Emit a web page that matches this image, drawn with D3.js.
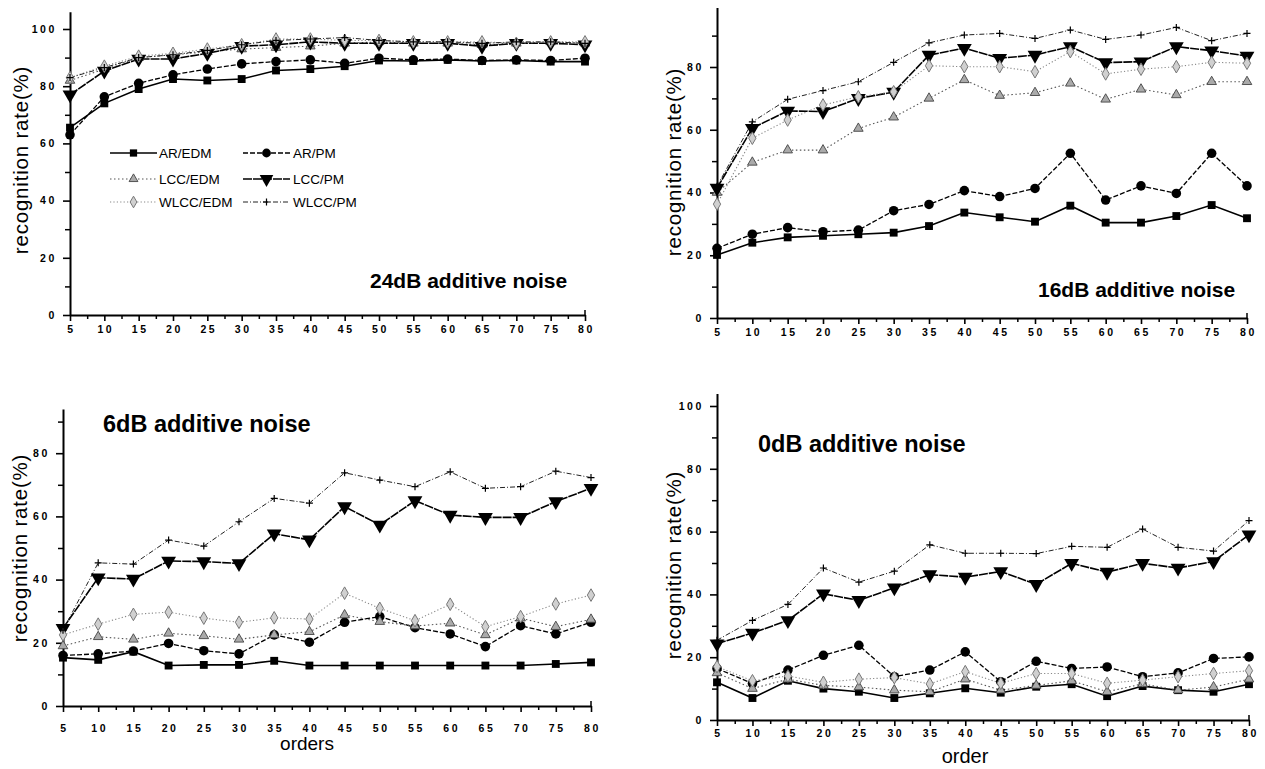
<!DOCTYPE html>
<html>
<head>
<meta charset="utf-8">
<script src="https://cdn.jsdelivr.net/npm/d3@7"></script>
<style>
  body { margin: 0; background: #fff; }
  svg { display: block; font-family: "Liberation Sans", Arial, sans-serif; }
</style>
</head>
<body>
<svg width="1265" height="769"></svg>
<script>
// x values (model order)
var orders = [5, 10, 15, 20, 25, 30, 35, 40, 45, 50, 55, 60, 65, 70, 75, 80];
var seriesNames = ["AR/EDM", "AR/PM", "LCC/EDM", "LCC/PM", "WLCC/EDM", "WLCC/PM"];
var panelTitles = ["24dB additive noise", "16dB additive noise", "6dB additive noise", "0dB additive noise"];
var xLabels = ["", "", "orders", "order"];
var yLabel = "recognition rate(%)";

// 24dB
var arEdm24   = [65.5, 74, 79, 82.5, 82, 82.5, 85.5, 86, 87, 89, 88.8, 89.2, 88.8, 89, 88.6, 88.6];
var arPm24    = [63, 76.3, 81, 84, 86, 87.8, 88.6, 89.2, 88, 89.8, 89.2, 89.5, 89, 89.2, 89, 89.8];
var lccEdm24  = [82, 86, 90, 91, 92, 93, 93.5, 94, 95, 95.5, 95, 95, 94.5, 95, 95.5, 95];
var lccPm24   = [77, 85.3, 89.5, 89.5, 91.5, 94, 94.5, 95.5, 95, 95, 95, 95, 94, 95, 95, 94.5];
var wlccEdm24 = [83, 87, 90.5, 91.5, 93, 94.5, 96.5, 96.5, 96, 96, 95.5, 95.5, 95.5, 95, 95.5, 95.5];
var wlccPm24  = [83, 86.5, 90, 91, 92.5, 94.5, 96, 96.5, 97, 96, 95.5, 95.5, 95, 95.5, 95.5, 95];

// 16dB
var arEdm16   = [20.1, 24, 25.7, 26.2, 26.7, 27.2, 29.3, 33.6, 32.1, 30.7, 35.8, 30.4, 30.4, 32.5, 36, 31.8];
var arPm16    = [22.2, 26.7, 28.8, 27.5, 28, 34.2, 36.2, 40.6, 38.7, 41.3, 52.5, 37.6, 42.1, 39.7, 52.5, 42.1];
var lccEdm16  = [40, 49.6, 53.5, 53.5, 60.4, 64, 70, 75.9, 70.9, 71.8, 74.8, 69.7, 72.9, 71.1, 75.3, 75.3];
var lccPm16   = [41.4, 60.5, 66, 65.8, 70, 72, 83.8, 86, 82.8, 83.8, 86.5, 81.4, 81.7, 86.5, 85.2, 83.5];
var wlccEdm16 = [36.3, 57.3, 63.1, 67.9, 70.5, 72.1, 80.4, 80.1, 80.1, 78.5, 84.9, 77.8, 79.3, 80.1, 81.5, 81.2];
var wlccPm16  = [42, 62.5, 69.7, 72.5, 75.3, 81.5, 87.7, 90.2, 90.7, 89.1, 91.8, 88.8, 90.2, 92.6, 88.4, 90.7];

// 6dB
var arEdm6   = [15.3, 14.6, 17.2, 12.8, 13, 13, 14.3, 12.8, 12.8, 12.8, 12.8, 12.8, 12.8, 12.8, 13.3, 13.8];
var arPm6    = [16, 16.5, 17.4, 19.8, 17.5, 16.5, 22.5, 20.2, 26.5, 28.3, 24.8, 22.8, 18.8, 25.4, 22.8, 26.5];
var lccEdm6  = [19, 21.9, 21.1, 23, 22.2, 21.1, 22.5, 23.5, 28.8, 26.7, 25.3, 26.2, 22.5, 27.8, 25.1, 27.4];
var lccPm6   = [24.6, 40.6, 40.2, 45.9, 45.7, 45.1, 54.5, 52.6, 63.1, 57.3, 65, 60.4, 59.7, 59.7, 64.7, 68.9];
var wlccEdm6 = [22.5, 25.9, 29, 29.7, 27.8, 26.5, 27.9, 27.5, 35.7, 30.9, 27, 32.2, 25.1, 28.3, 32.3, 35.1];
var wlccPm6  = [24, 45.3, 44.9, 52.5, 50.6, 58.3, 65.7, 64.2, 73.8, 71.5, 69.4, 74.1, 68.9, 69.4, 74.3, 72.3];

// 0dB
var arEdm0   = [12, 7, 12.5, 10, 9, 7, 8.5, 10.1, 8.7, 10.6, 11.4, 7.6, 10.8, 9.5, 9, 11.4];
var arPm0    = [16.4, 11.6, 15.9, 20.6, 23.8, 13.8, 15.9, 21.7, 12.2, 18.7, 16.4, 16.9, 13.8, 15, 19.6, 20.1];
var lccEdm0  = [15, 10, 13, 11, 10.5, 9.5, 9, 13, 9.5, 11, 12.5, 9, 11.5, 9.5, 10.5, 13];
var lccPm0   = [24.3, 27.7, 31.7, 40.2, 38.1, 42.1, 46.3, 45.5, 47.3, 43.2, 49.9, 47.1, 49.9, 48.4, 50.5, 59];
var wlccEdm0 = [17, 12.5, 14, 12, 13, 13.5, 11.5, 15.4, 11.7, 14.8, 14.8, 11.7, 12.7, 13.8, 14.8, 15.7];
var wlccPm0  = [25.4, 31.7, 36.8, 48.4, 43.9, 47.4, 55.8, 53.1, 53.1, 53, 55.3, 55, 60.8, 55, 53.8, 63.5];

var yTicks = [0, 20, 40, 60, 80, 100];

var svg = d3.select("svg");

// line / marker style for each series (same order as seriesNames)
var styles = [
  {stroke: "#000", width: 1.6, dash: null,      sym: "square"},
  {stroke: "#000", width: 1.3, dash: "5,2",     sym: "circle"},
  {stroke: "#555", width: 1.1, dash: "1.5,2.5", sym: "tri"},
  {stroke: "#000", width: 1.6, dash: "9,1",     sym: "tridown"},
  {stroke: "#888", width: 1.1, dash: "1.2,2.2", sym: "diamond"},
  {stroke: "#222", width: 1,   dash: "5,2,1,2", sym: "plus"}
];

function drawMarker(g, sym, cx, cy, big) {
  var k = big ? 1 : 0.85;
  if (sym === "square") {
    g.append("path").attr("d", d3.symbol(d3.symbolSquare, 62 * k)())
      .attr("transform", "translate(" + cx + "," + cy + ")").attr("fill", "#000");
  } else if (sym === "circle") {
    g.append("path").attr("d", d3.symbol(d3.symbolCircle, 72 * k)())
      .attr("transform", "translate(" + cx + "," + cy + ")").attr("fill", "#000");
  } else if (sym === "tri") {
    g.append("path").attr("d", d3.symbol(d3.symbolTriangle, 40 * k)())
      .attr("transform", "translate(" + cx + "," + cy + ")")
      .attr("fill", "#aaa").attr("stroke", "#444").attr("stroke-width", 0.9);
  } else if (sym === "tridown") {
    g.append("path").attr("d", d3.symbol(d3.symbolTriangle, 95 * k)())
      .attr("transform", "translate(" + cx + "," + cy + ") rotate(180)").attr("fill", "#000");
  } else if (sym === "diamond") {
    g.append("path").attr("d", d3.symbol(d3.symbolDiamond, 46 * k)())
      .attr("transform", "translate(" + cx + "," + cy + ")")
      .attr("fill", "#d0d0d0").attr("stroke", "#777").attr("stroke-width", 1);
  } else {
    var s = 3.5;
    g.append("path")
      .attr("d", "M" + (cx - s) + "," + cy + "H" + (cx + s) + "M" + cx + "," + (cy - s) + "V" + (cy + s))
      .attr("stroke", "#000").attr("stroke-width", 1.2).attr("fill", "none");
  }
}

// panel layout (pixel boxes for each subplot)
var panels = [
  {x0: 70,  x1: 585,  yBase: 315, perUnit: 2.86,   yMax: 106, series: [arEdm24, arPm24, lccEdm24, lccPm24, wlccEdm24, wlccPm24],
   lblOff: 17.5, title: [370, 288, 21], ylab: [28, 160], xlab: null},
  {x0: 717, x1: 1247, yBase: 318, perUnit: 3.1375, yMax: 99,  series: [arEdm16, arPm16, lccEdm16, lccPm16, wlccEdm16, wlccPm16],
   lblOff: 17.5, title: [1038, 297, 21], ylab: [681, 162], xlab: null},
  {x0: 63,  x1: 591,  yBase: 706, perUnit: 3.16,   yMax: 94,  series: [arEdm6, arPm6, lccEdm6, lccPm6, wlccEdm6, wlccPm6],
   lblOff: 26, title: [103, 432, 23.5], ylab: [27, 548], xlab: [307, 750, 19]},
  {x0: 717, x1: 1249, yBase: 720, perUnit: 3.14,   yMax: 104, series: [arEdm0, arPm0, lccEdm0, lccPm0, wlccEdm0, wlccPm0],
   lblOff: 17, title: [758, 452, 23.5], ylab: [681, 565], xlab: [965, 763, 20]}
];

var minorX = orders.slice(0, -1).map(function(o) { return o + 2.5; });

panels.forEach(function(p, pi) {
  var x = d3.scaleLinear().domain([5, 80]).range([p.x0, p.x1]);
  var y = d3.scaleLinear().domain([0, p.yMax]).range([p.yBase, p.yBase - p.yMax * p.perUnit]);
  var g = svg.append("g");

  // axes
  var xa = g.append("g").attr("transform", "translate(0," + p.yBase + ")")
    .call(d3.axisBottom(x).tickValues(orders).tickSize(6).tickSizeOuter(0));
  xa.select(".domain").attr("stroke-width", 2);
  xa.selectAll(".tick line").attr("stroke-width", 1.6);
  xa.selectAll("text").attr("y", p.lblOff).attr("dy", 0).attr("dx", 1)
    .attr("font-size", 10.5).attr("font-weight", "bold").attr("letter-spacing", 2.6)
    .attr("font-family", "Liberation Sans, Arial, sans-serif");
  var xm = g.append("g").attr("transform", "translate(0," + p.yBase + ")")
    .call(d3.axisBottom(x).tickValues(minorX).tickSize(4).tickFormat(""));
  xm.select(".domain").remove();
  xm.selectAll(".tick line").attr("stroke-width", 1.5);
  // end bracket
  g.append("line").attr("x1", x(80)).attr("x2", x(80))
    .attr("y1", p.yBase).attr("y2", p.yBase - 5).attr("stroke", "#000").attr("stroke-width", 1.5);

  var yt = yTicks.filter(function(t) { return t <= p.yMax; });
  var ym = d3.range(10, p.yMax, 20);
  var ya = g.append("g").attr("transform", "translate(" + p.x0 + ",0)")
    .call(d3.axisLeft(y).tickValues(yt).tickSize(7).tickSizeOuter(0).tickPadding(6));
  ya.select(".domain").attr("stroke-width", 2);
  ya.selectAll(".tick line").attr("stroke-width", 1.6);
  ya.selectAll("text").attr("font-size", 10.5).attr("font-weight", "bold").attr("letter-spacing", 2.6)
    .attr("font-family", "Liberation Sans, Arial, sans-serif");
  var ymn = g.append("g").attr("transform", "translate(" + p.x0 + ",0)")
    .call(d3.axisLeft(y).tickValues(ym).tickSize(5).tickFormat(""));
  ymn.select(".domain").remove();
  ymn.selectAll(".tick line").attr("stroke-width", 1.5);

  // series lines
  p.series.forEach(function(vals, si) {
    var st = styles[si];
    var line = d3.line().x(function(d, i) { return x(orders[i]); }).y(function(d) { return y(d); });
    g.append("path").datum(vals).attr("d", line)
      .attr("fill", "none").attr("stroke", st.stroke).attr("stroke-width", st.width)
      .attr("stroke-dasharray", st.dash);
  });
  // markers on top
  p.series.forEach(function(vals, si) {
    var mg = g.append("g");
    vals.forEach(function(v, i) { drawMarker(mg, styles[si].sym, x(orders[i]), y(v), true); });
  });

  // title
  g.append("text").attr("x", p.title[0]).attr("y", p.title[1])
    .attr("font-size", p.title[2]).attr("font-weight", "bold").text(panelTitles[pi]);
  // y label
  g.append("text").attr("transform", "translate(" + p.ylab[0] + "," + p.ylab[1] + ") rotate(-90)")
    .attr("text-anchor", "middle").attr("font-size", 20.5).attr("letter-spacing", 0.8).text(yLabel);
  if (p.xlab) {
    g.append("text").attr("x", p.xlab[0]).attr("y", p.xlab[1]).attr("text-anchor", "middle")
      .attr("font-size", p.xlab[2]).text(xLabels[pi]);
  }
});

// legend in first panel
var legRows = [153, 179, 202];
var legCols = [{l0: 110, l1: 157, t: 159}, {l0: 243, l1: 290, t: 293}];
var leg = svg.append("g");
seriesNames.forEach(function(name, i) {
  var c = legCols[i % 2], r = legRows[Math.floor(i / 2)], st = styles[i];
  leg.append("line").attr("x1", c.l0).attr("x2", c.l1).attr("y1", r).attr("y2", r)
    .attr("stroke", st.stroke).attr("stroke-width", st.width).attr("stroke-dasharray", st.dash);
  drawMarker(leg, st.sym, (c.l0 + c.l1) / 2, r, false);
  leg.append("text").attr("x", c.t).attr("y", r + 5).attr("font-size", 13.5).text(name);
});
</script>
</body>
</html>
